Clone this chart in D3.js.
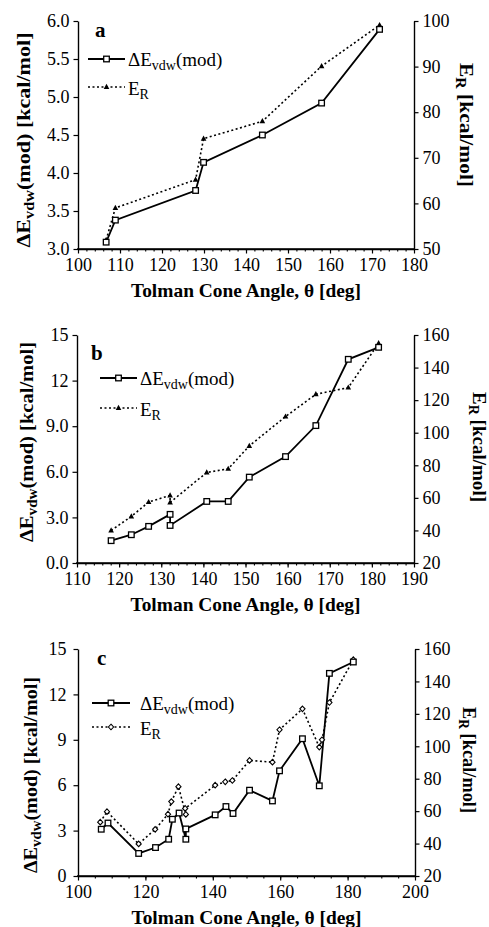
<!DOCTYPE html>
<html><head><meta charset="utf-8">
<script src="https://cdn.jsdelivr.net/npm/d3@7"></script>
<style>body{margin:0;background:#fff}svg{display:block}
svg text{font-family:"Liberation Serif","DejaVu Serif",serif;}</style>
</head><body>
<svg id="chart" width="489" height="927"></svg>
<script>
// ---- data ----
const xA   = [106.7,108.9,128.0,129.9,143.9,158.0,171.8];
const dEA  = [3.09,3.38,3.77,4.14,4.50,4.92,5.89];
const erA  = [52.0,59.0,65.2,74.2,78.0,90.1,99.1];

const xB   = [118.1,122.9,127.0,132.1,132.1,140.8,145.9,150.9,159.5,166.7,174.4,181.6];
const dEB  = [1.47,1.86,2.41,3.20,2.47,4.05,4.05,5.65,7.00,9.04,13.40,14.19];
const erB  = [40.0,48.6,57.4,61.5,57.2,75.6,77.8,91.9,109.9,123.6,127.7,154.9];

const xC   = [106.9,108.9,118.0,123.0,126.9,128.0,130.0,132.0,132.0,140.7,143.9,146.0,150.9,157.7,159.8,166.6,171.6,174.6,181.7];
const dEC  = [3.09,3.50,1.49,1.88,2.43,3.75,4.16,2.43,3.11,4.04,4.59,4.13,5.67,4.96,6.95,9.07,5.96,13.39,14.14];
const xCR  = [106.6,108.6,118.0,122.9,126.7,127.7,129.8,132.0,131.8,140.7,143.7,145.8,150.9,157.7,159.8,166.6,171.6,172.4,174.6,181.7];
const erC  = [53.2,59.7,39.8,48.8,58.1,65.9,75.1,58.0,61.7,76.0,78.1,78.9,91.3,90.2,110.2,123.1,99.5,104.0,127.0,153.4];

const xTicksA = [100,110,120,130,140,150,160,170,180];
const yTicksA = ["3.0","3.5","4.0","4.5","5.0","5.5","6.0"];
const rTicksA = [50,60,70,80,90,100];
const xTicksB = [110,120,130,140,150,160,170,180,190];
const yTicksB = ["0.0","3.0","6.0","9.0","12","15"];
const rTicksB = [20,40,60,80,100,120,140,160];
const xTicksC = [100,120,140,160,180,200];
const yTicksC = ["0","3","6","9","12","15"];
const rTicksC = [20,40,60,80,100,120,140,160];

const panelLetters = ["a","b","c"];
const xTitle = "Tolman Cone Angle, θ [deg]";

// ---- drawing ----
const svg = d3.select("#chart");
const SERIF = "Liberation Serif, DejaVu Serif, serif";

const panels = [
  {letter:panelLetters[0], L:78, R:414, T:21, B:249,
   xDom:[100,180], xTicks:xTicksA, xMinor:2, yDom:[3,6], yTicks:yTicksA, rDom:[50,100], rTicks:rTicksA,
   xs:xA, dE:dEA, xr:xA, er:erA, erShape:"tri", yPad:4,
   letterPos:[17,16], leg:{x0:10,x1:47,tx:50,y1:38,y2:66}, leftTitleX:23, leftTitleY:140, leftLen:215,
   rightTitleX:467, rightTitleY:125, rightLen:124},
  {letter:panelLetters[1], L:77, R:414, T:335, B:563,
   xDom:[110,190], xTicks:xTicksB, xMinor:2, yDom:[0,15], yTicks:yTicksB, rDom:[20,160], rTicks:rTicksB,
   xs:xB, dE:dEB, xr:xB, er:erB, erShape:"tri", yPad:4,
   letterPos:[14,25], leg:{x0:23,x1:60,tx:63,y1:43,y2:73}, leftTitleX:26, leftTitleY:442, leftLen:200,
   rightTitleX:480, rightTitleY:447, rightLen:110},
  {letter:panelLetters[2], L:78, R:415, T:649, B:876,
   xDom:[100,200], xTicks:xTicksC, xMinor:5, yDom:[0,15], yTicks:yTicksC, rDom:[20,160], rTicks:rTicksC,
   xs:xC, dE:dEC, xr:xCR, er:erC, erShape:"dia", yPad:7,
   letterPos:[19,16], leg:{x0:14,x1:52,tx:62,y1:54,y2:78}, leftTitleX:30, leftTitleY:775, leftLen:196,
   rightTitleX:470, rightTitleY:760, rightLen:106}
];

function marker(g, shape, x, y){
  if(shape==="sq"){
    g.append("rect").attr("x",x-2.8).attr("y",y-2.8).attr("width",5.6).attr("height",5.6)
      .attr("fill","#fff").attr("stroke","#000").attr("stroke-width",1.3);
  } else if(shape==="tri"){
    g.append("path").attr("d",`M${x},${y-3.2}L${x+2.8},${y+2}L${x-2.8},${y+2}Z`).attr("fill","#000");
  } else {
    g.append("path").attr("d",`M${x},${y-2.8}L${x+2.6},${y}L${x},${y+2.8}L${x-2.6},${y}Z`)
      .attr("fill","#fff").attr("stroke","#000").attr("stroke-width",1.1);
  }
}

panels.forEach(p=>{
  const g = svg.append("g");
  const x = d3.scaleLinear().domain(p.xDom).range([p.L,p.R]);
  const y = d3.scaleLinear().domain(p.yDom).range([p.B,p.T]);
  const r = d3.scaleLinear().domain(p.rDom).range([p.B,p.T]);

  // x axis minor
  g.append("g").attr("transform",`translate(0,${p.B})`)
    .call(d3.axisBottom(x).tickValues(d3.range(p.xDom[0],p.xDom[1]+0.001,p.xMinor)).tickSize(2.5).tickFormat(""))
    .call(a=>a.select(".domain").remove())
    .selectAll("line").attr("stroke-width",1.1);
  // x axis major
  const xa = g.append("g").attr("transform",`translate(0,${p.B})`)
    .call(d3.axisBottom(x).tickValues(p.xTicks).tickSize(4.5).tickPadding(4.5).tickSizeOuter(0));
  // left axis
  const yVals = p.yTicks.map(Number);
  const ya = g.append("g").attr("transform",`translate(${p.L},0)`)
    .call(d3.axisLeft(y).tickValues(yVals).tickFormat((d,i)=>p.yTicks[i]).tickSize(4.5).tickPadding(p.yPad).tickSizeOuter(0));
  // right axis
  const ra = g.append("g").attr("transform",`translate(${p.R},0)`)
    .call(d3.axisRight(r).tickValues(p.rTicks).tickSize(4.5).tickPadding(4).tickSizeOuter(0));
  [xa,ya,ra].forEach(a=>{
    a.attr("font-family",null).attr("font-size",null);
    a.select(".domain").attr("stroke-width",1.4);
    a.selectAll(".tick line").attr("stroke-width",1.2);
    a.selectAll("text").style("font-family",SERIF).style("font-size","18px").attr("fill","#000");
  });
  g.append("line").attr("x1",p.L-1).attr("x2",p.R+1).attr("y1",p.B).attr("y2",p.B).attr("stroke","#000").attr("stroke-width",1.4);

  // lines
  const solid = d3.line().x(i=>x(p.xs[i])).y(i=>y(p.dE[i]));
  const dotted = d3.line().x(i=>x(p.xr[i])).y(i=>r(p.er[i]));
  g.append("path").attr("d",dotted(d3.range(p.er.length))).attr("fill","none")
    .attr("stroke","#000").attr("stroke-width",1.6).attr("stroke-dasharray","2,2.5");
  g.append("path").attr("d",solid(d3.range(p.dE.length))).attr("fill","none")
    .attr("stroke","#000").attr("stroke-width",1.8);
  p.er.forEach((v,i)=>marker(g,p.erShape,x(p.xr[i]),r(v)));
  p.dE.forEach((v,i)=>marker(g,"sq",x(p.xs[i]),y(v)));

  // panel letter
  g.append("text").attr("x",p.L+p.letterPos[0]).attr("y",p.T+p.letterPos[1])
    .attr("font-weight","bold").attr("font-size",21).text(p.letter);

  // legend
  const lg = p.leg;
  g.append("line").attr("x1",p.L+lg.x0).attr("x2",p.L+lg.x1).attr("y1",p.T+lg.y1).attr("y2",p.T+lg.y1)
    .attr("stroke","#000").attr("stroke-width",1.8);
  marker(g,"sq",p.L+(lg.x0+lg.x1)/2,p.T+lg.y1);
  g.append("line").attr("x1",p.L+lg.x0).attr("x2",p.L+lg.x1).attr("y1",p.T+lg.y2).attr("y2",p.T+lg.y2)
    .attr("stroke","#000").attr("stroke-width",1.6).attr("stroke-dasharray","2,2.5");
  marker(g,p.erShape,p.L+(lg.x0+lg.x1)/2,p.T+lg.y2);
  const t1 = g.append("text").attr("x",p.L+lg.tx).attr("y",p.T+lg.y1+7).attr("font-size",19);
  t1.append("tspan").text("ΔE");
  t1.append("tspan").attr("font-size",14).attr("dy",4).text("vdw");
  t1.append("tspan").attr("dy",-4).text("(mod)");
  const t2 = g.append("text").attr("x",p.L+lg.tx).attr("y",p.T+lg.y2+8).attr("font-size",19);
  t2.append("tspan").text("E");
  t2.append("tspan").attr("font-size",14).attr("dy",4).text("R");

  // x title
  g.append("text").attr("x",(p.L+p.R)/2).attr("y",p.B+48).attr("text-anchor","middle")
    .attr("font-weight","bold").attr("font-size",19)
    .attr("textLength",230).attr("lengthAdjust","spacingAndGlyphs").text(xTitle);

  // left title
  const lt = g.append("text").attr("transform",`translate(${p.leftTitleX},${p.leftTitleY}) rotate(-90)`)
    .attr("text-anchor","middle").attr("dy","0.35em")
    .attr("font-weight","bold").attr("font-size",19)
    .attr("textLength",p.leftLen).attr("lengthAdjust","spacingAndGlyphs");
  lt.append("tspan").text("ΔE");
  lt.append("tspan").attr("font-size",14).attr("dy",4).text("vdw");
  lt.append("tspan").attr("dy",-4).text("(mod) [kcal/mol]");

  // right title
  const rt = g.append("text").attr("transform",`translate(${p.rightTitleX},${p.rightTitleY}) rotate(90)`)
    .attr("text-anchor","middle").attr("dy","0.35em")
    .attr("font-weight","bold").attr("font-size",19)
    .attr("textLength",p.rightLen).attr("lengthAdjust","spacingAndGlyphs");
  rt.append("tspan").text("E");
  rt.append("tspan").attr("font-size",14).attr("dy",4).text("R");
  rt.append("tspan").attr("dy",-4).text(" [kcal/mol]");
});
</script>
</body></html>
